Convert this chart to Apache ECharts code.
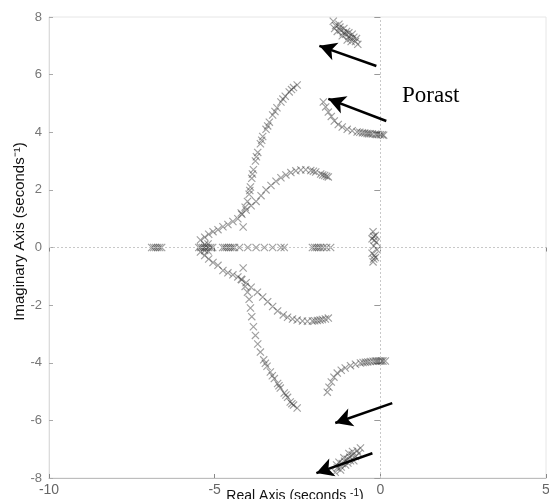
<!DOCTYPE html>
<html>
<head>
<meta charset="utf-8">
<script src="https://cdn.jsdelivr.net/npm/echarts@6/dist/echarts.min.js"></script>
<style>html,body{margin:0;padding:0;background:#fff}#c{width:549px;height:499px}</style>
</head>
<body>
<div id="c"></div>
<script>
// ---- data ----
const xTicks = [-10, -5, 0, 5];
const yTicks = [-8, -6, -4, -2, 0, 2, 4, 6, 8];

const realAxisPts = [[-6.9,0],[-6.84,0],[-6.78,0],[-6.72,0],[-6.66,0],[-6.6,0],
  [-5.48,0],[-5.42,0],[-5.36,0],[-5.3,0],[-5.24,0],[-5.18,0],[-5.12,0],[-5.06,0],[-5.3,0.1],[-5.3,-0.1],[-5.2,0.12],[-5.2,-0.12],
  [-4.76,0],[-4.7,0],[-4.64,0],[-4.58,0],[-4.52,0],[-4.46,0],[-4.4,0],
  [-4.25,0],[-4.0,0],[-3.75,0],[-3.5,0],[-3.25,0],[-3.0,0],[-2.9,0],
  [-2.05,0],[-1.98,0],[-1.92,0],[-1.86,0],[-1.8,0],[-1.72,0],[-1.62,0],[-1.5,0]];
const nearZeroPts = [[-0.22,0.55],[-0.15,0.42],[-0.25,0.3],[-0.12,0.18],[-0.2,0.05],
  [-0.1,-0.08],[-0.25,-0.2],[-0.15,-0.35],[-0.22,-0.5],[-0.18,0.25],[-0.18,-0.28],[-0.2,-0.4],[-0.2,0.38]];
const isolatedPts = [[-4.14,0.71],[-4.14,-0.71]];

const branchAUpper = [[-5.43,0.26],[-5.3,0.36],[-5.18,0.46],[-5.05,0.55],[-4.9,0.62],[-4.75,0.72],
  [-4.6,0.8],[-4.45,0.9],[-4.3,1.0],[-4.18,1.15],[-4.08,1.4],[-4.01,1.6],[-3.96,1.85],[-3.92,2.1],
  [-3.88,2.4],[-3.83,2.7],[-3.77,3.0],[-3.7,3.3],[-3.62,3.6],[-3.55,3.85],[-3.45,4.1],[-3.35,4.35],
  [-3.25,4.6],[-3.12,4.85],[-3.0,5.05],[-2.87,5.25],[-2.75,5.4],[-2.62,5.55],[-2.51,5.64],
  [-3.94,1.98],[-3.86,2.55],[-3.74,3.15],[-3.58,3.72],[-3.4,4.22],[-3.18,4.72],[-2.94,5.15],[-2.68,5.48]];
const branchBUpper = [[-4.2,1.2],[-4.05,1.3],[-3.9,1.45],[-3.75,1.6],[-3.6,1.8],[-3.45,2.0],
  [-3.3,2.15],[-3.15,2.3],[-3.0,2.42],[-2.85,2.52],[-2.7,2.6],[-2.55,2.66],[-2.4,2.69],[-2.25,2.7],
  [-2.1,2.67],[-1.95,2.62],[-1.8,2.55],[-1.68,2.5],[-1.57,2.45],[-2.02,2.65],[-1.74,2.52],[-1.62,2.47]];
const branchALower = [[-5.43,-0.16],[-5.3,-0.28],[-5.18,-0.4],[-5.05,-0.52],[-4.9,-0.62],[-4.75,-0.8],
  [-4.6,-0.88],[-4.45,-0.95],[-4.3,-1.02],[-4.18,-1.12],[-4.08,-1.35],[-4.01,-1.55],[-3.96,-1.8],
  [-3.92,-2.1],[-3.88,-2.4],[-3.83,-2.75],[-3.77,-3.05],[-3.7,-3.35],[-3.62,-3.63],[-3.52,-3.9],
  [-3.42,-4.12],[-3.32,-4.32],[-3.2,-4.55],[-3.1,-4.72],[-3.02,-4.88],[-2.9,-5.05],[-2.8,-5.2],
  [-2.72,-5.36],[-2.62,-5.47],[-2.51,-5.57],[-3.47,-4.02],[-3.26,-4.45],[-3.06,-4.8],[-2.85,-5.12],[-2.67,-5.42]];
const branchBLower = [[-4.2,-1.1],[-4.05,-1.22],[-3.9,-1.38],[-3.71,-1.55],[-3.55,-1.72],[-3.4,-1.88],
  [-3.25,-2.05],[-3.1,-2.2],[-2.93,-2.34],[-2.8,-2.42],[-2.65,-2.48],[-2.51,-2.52],[-2.35,-2.55],
  [-2.2,-2.56],[-2.05,-2.55],[-1.9,-2.53],[-1.75,-2.5],[-1.57,-2.45],[-1.82,-2.52],[-1.66,-2.48],[-1.98,-2.54]];
const branchDUpper = [[-1.72,5.05],[-1.65,4.88],[-1.57,4.7],[-1.48,4.55],[-1.39,4.39],[-1.27,4.27],
  [-1.15,4.18],[-1.0,4.1],[-0.85,4.05],[-0.7,4.01],[-0.54,3.98],[-0.4,3.96],[-0.3,3.95],[-0.24,3.94],
  [-0.15,3.93],[-0.1,3.92],[0.0,3.91],[0.06,3.91],[-0.62,4.0],[-0.47,3.97],[-0.35,3.95],[-0.05,3.92],[0.1,3.9]];
const branchDLower = [[-1.6,-5.02],[-1.55,-4.85],[-1.48,-4.67],[-1.4,-4.5],[-1.3,-4.36],[-1.18,-4.26],
  [-1.06,-4.18],[-0.9,-4.1],[-0.75,-4.05],[-0.6,-4.01],[-0.45,-3.98],[-0.38,-3.97],[-0.3,-3.96],
  [-0.22,-3.95],[-0.15,-3.94],[-0.05,-3.94],[0.0,-3.94],[0.08,-3.94],[0.15,-3.94],[-0.52,-3.99],[-0.1,-3.94],[0.04,-3.94]];
const clusterUpper = [[-1.42,7.85],[-1.35,7.7],[-1.25,7.75],[-1.2,7.55],[-1.1,7.6],[-1.05,7.4],
  [-0.95,7.45],[-0.9,7.25],[-0.8,7.3],[-0.75,7.15],[-0.68,7.05],[-1.3,7.5],[-1.0,7.2],[-0.85,7.4],
  [-1.15,7.35],[-1.38,7.6],[-0.72,7.25],[-1.22,7.65],[-1.02,7.5],[-0.88,7.15],[-1.12,7.45],[-0.95,7.32]];
const clusterLower = [[-1.36,-7.8],[-1.3,-7.65],[-1.2,-7.72],[-1.15,-7.5],[-1.05,-7.55],[-1.0,-7.35],
  [-0.9,-7.4],[-0.85,-7.2],[-0.75,-7.25],[-0.7,-7.05],[-0.6,-6.96],[-1.25,-7.45],[-0.95,-7.15],
  [-0.8,-7.4],[-1.1,-7.3],[-1.32,-7.55],[-0.65,-7.15],[-1.18,-7.62],[-0.98,-7.48],[-0.84,-7.08],[-1.08,-7.42],[-0.92,-7.28]];

// arrows: [tailX, tailY, tipX, tipY]
const arrows = [[-0.12,6.30,-1.84,7.00],[0.18,4.39,-1.57,5.16],[0.36,-5.40,-1.36,-6.09],[-0.24,-7.14,-1.93,-7.83]];
const annotationText = 'Porast';

// ---- chart ----
const xMark = 'path://M0,1L1,0L10,9L9,10Z M9,0L10,1L1,10L0,9Z';
const groups = [realAxisPts, nearZeroPts, isolatedPts, branchAUpper, branchBUpper, branchALower,
  branchBLower, branchDUpper, branchDLower, clusterUpper, clusterLower];

const series = groups.map(g => ({
  type: 'scatter', data: g, symbol: xMark, symbolSize: 8, silent: true,
  itemStyle: { color: 'rgba(55,55,55,0.6)' }
}));

series.push({
  type: 'scatter', data: [], silent: true,
  markLine: {
    silent: true, symbol: ['none', 'none'], label: { show: false },
    lineStyle: { color: '#c8c8c8', type: [2, 2], width: 1 },
    data: [{ xAxis: 0 }, { yAxis: 0 }]
  }
});
series.push({
  type: 'scatter', data: [], silent: true, z: 10,
  markLine: {
    silent: true, symbol: ['none', 'arrow'], symbolSize: [14, 17], label: { show: false },
    lineStyle: { color: '#000', type: 'solid', width: 2.5 },
    data: arrows.map(a => [{ coord: [a[0], a[1]] }, { coord: [a[2], a[3]] }])
  }
});

const chart = echarts.init(document.getElementById('c'), null, { renderer: 'canvas' });
chart.setOption({
  animation: false,
  backgroundColor: '#fff',
  grid: { left: 49, right: 3, top: 17, bottom: 21, containLabel: false, outerBoundsMode: 'none',
    show: true, borderColor: '#e6e6e6', borderWidth: 1, backgroundColor: 'transparent' },
  xAxis: [{
    type: 'value', min: xTicks[0], max: xTicks[xTicks.length - 1], interval: 5,
    axisLine: { onZero: false, lineStyle: { color: '#bdbdbd' } },
    axisTick: { show: true, inside: true, length: 4, lineStyle: { color: '#888' } },
    axisLabel: { color: '#666', fontSize: 14, fontFamily: 'Liberation Sans, Arial', margin: 5 },
    splitLine: { show: false },
    name: '{a|Real Axis (seconds }{s|-1}{a|)}', nameLocation: 'middle', nameGap: 10, nameMoveOverlap: false,
    nameTextStyle: { padding: [0, 5, 0, 0], rich: { a: { fontSize: 14, color: '#111', fontFamily: 'Liberation Sans, Arial' },
      s: { fontSize: 10, color: '#111', fontFamily: 'Liberation Sans, Arial', verticalAlign: 'top', padding: [0, 0, 6, 0] } } }
  }, {
    type: 'value', position: 'top', min: xTicks[0], max: xTicks[xTicks.length - 1], interval: 5,
    axisLine: { show: false }, axisLabel: { show: false }, splitLine: { show: false },
    axisTick: { show: true, inside: true, length: 4, lineStyle: { color: '#888' } }
  }],
  yAxis: [{
    type: 'value', min: yTicks[0], max: yTicks[yTicks.length - 1], interval: 2,
    axisLine: { onZero: false, lineStyle: { color: '#dcdcdc' } },
    axisTick: { show: true, inside: true, length: 4, lineStyle: { color: '#aaa' } },
    axisLabel: { color: '#777', fontSize: 13, fontFamily: 'Liberation Sans, Arial', margin: 7 },
    splitLine: { show: false },
    name: 'Imaginary Axis (seconds\u207B\u00B9)', nameLocation: 'middle', nameGap: 22, nameRotate: 90, nameMoveOverlap: false,
    nameTextStyle: { fontSize: 15, color: '#111', fontFamily: 'Liberation Sans, Arial', padding: [0, 0, 0, 32] }
  }, {
    type: 'value', position: 'right', min: yTicks[0], max: yTicks[yTicks.length - 1], interval: 2,
    axisLine: { show: false }, axisLabel: { show: false }, splitLine: { show: false },
    axisTick: { show: true, inside: true, length: 6, lineStyle: { color: '#999' } }
  }],
  graphic: [{
    type: 'text', left: 402, top: 84,
    style: { text: annotationText, font: '23px "Liberation Serif", "Times New Roman", serif', fill: '#000' }
  }],
  series: series
});
</script>
</body>
</html>
